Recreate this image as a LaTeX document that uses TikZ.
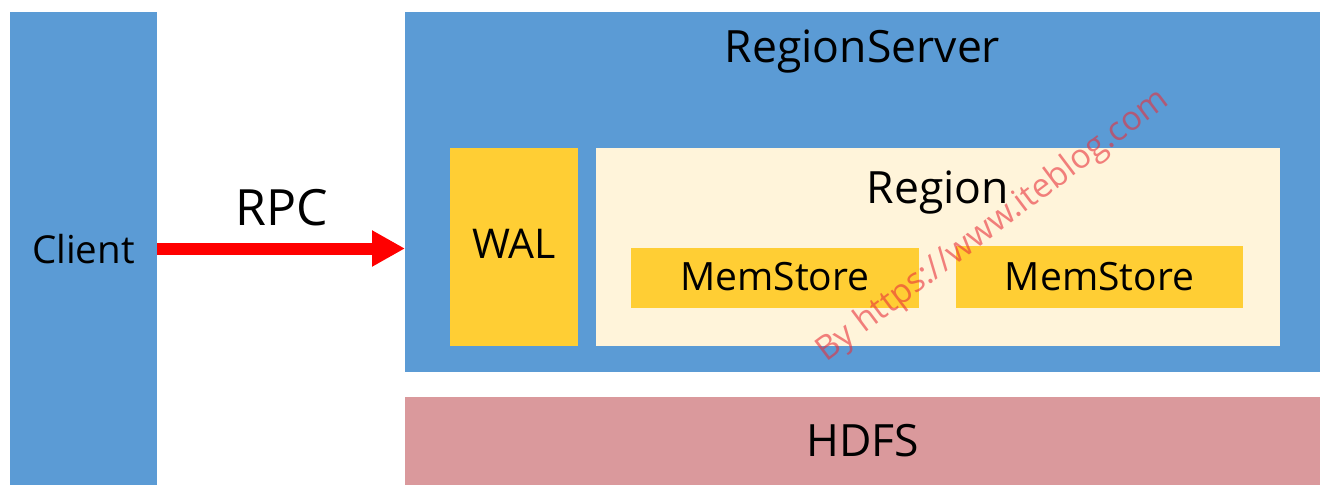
\documentclass[tikz,border=0pt]{standalone}
\usepackage{fontspec}
\setmainfont{Open Sans}
\usetikzlibrary{arrows.meta}
\definecolor{rsblue}{HTML}{5B9BD5}
\definecolor{walyellow}{HTML}{FFCE34}
\definecolor{regioncream}{HTML}{FFF4DA}
\definecolor{hdfspink}{HTML}{DA999C}
\definecolor{markred}{HTML}{E8303A}
\tikzset{
  block/.style={draw=none, inner sep=0pt, outer sep=0pt, anchor=north west},
  lbl/.style={inner sep=0pt, anchor=base, text=black},
  bigtext/.style={lbl, font=\fontsize{44.5}{44.5}\selectfont},
  midtext/.style={lbl, font=\fontsize{39}{39}\selectfont},
  rpcarrow/.style={draw=red, line width=12pt, -{Triangle[length=33pt,width=34pt]}},
  stamp/.style={inner sep=0pt, text=markred, text opacity=0.6, font=\fontsize{33.5}{33.5}\selectfont}
}
\begin{document}
\begin{tikzpicture}[x=1pt,y=-1pt]
  \useasboundingbox[fill=white] (0,0) rectangle (1320,485);

  % client column
  \node[block, fill=rsblue, minimum width=147pt, minimum height=473pt] (client) at (10,12) {};
  \node[midtext, font=\fontsize{38.5}{38.5}\selectfont] (clientlbl) at (client.center |- 0,263) {Client};

  % region server with its write-ahead log and region
  \node[block, fill=rsblue, minimum width=915pt, minimum height=360pt] (rs) at (405,12) {};
  \node[bigtext] (rslbl) at (rs.center |- 0,62) {RegionServer};

  \node[block, fill=walyellow, minimum width=128pt, minimum height=198pt] (wal) at (450,148) {};
  \node[midtext, font=\fontsize{41}{41}\selectfont] (wallbl) at (wal.center |- 0,258) {WAL};

  \node[block, fill=regioncream, minimum width=684pt, minimum height=198pt] (region) at (596,148) {};
  \node[bigtext] (regionlbl) at (region.center |- 0,203) {Region};

  \node[block, fill=walyellow, minimum width=288pt, minimum height=60pt] (ms1) at (631,248) {};
  \node[midtext] (ms1lbl) at (ms1.center |- 0,290) {MemStore};

  \node[block, fill=walyellow, minimum width=287pt, minimum height=62pt] (ms2) at (956,246) {};
  \node[midtext] (ms2lbl) at (ms2.center |- 0,290) {MemStore};

  % storage layer
  \node[block, fill=hdfspink, minimum width=915pt, minimum height=88pt] (hdfs) at (405,397) {};
  \node[bigtext] (hdfslbl) at (hdfs.center |- 0,456) {HDFS};

  % call from the client
  \draw[rpcarrow] (client.east) -- (client.east -| rs.west);
  \node[lbl, font=\fontsize{50}{50}\selectfont] (rpclbl) at (282,225) {RPC};

  % site stamp
  \node[stamp, rotate=37] (stamp) at (993,226) {By https://www.iteblog.com};
\end{tikzpicture}
\end{document}
